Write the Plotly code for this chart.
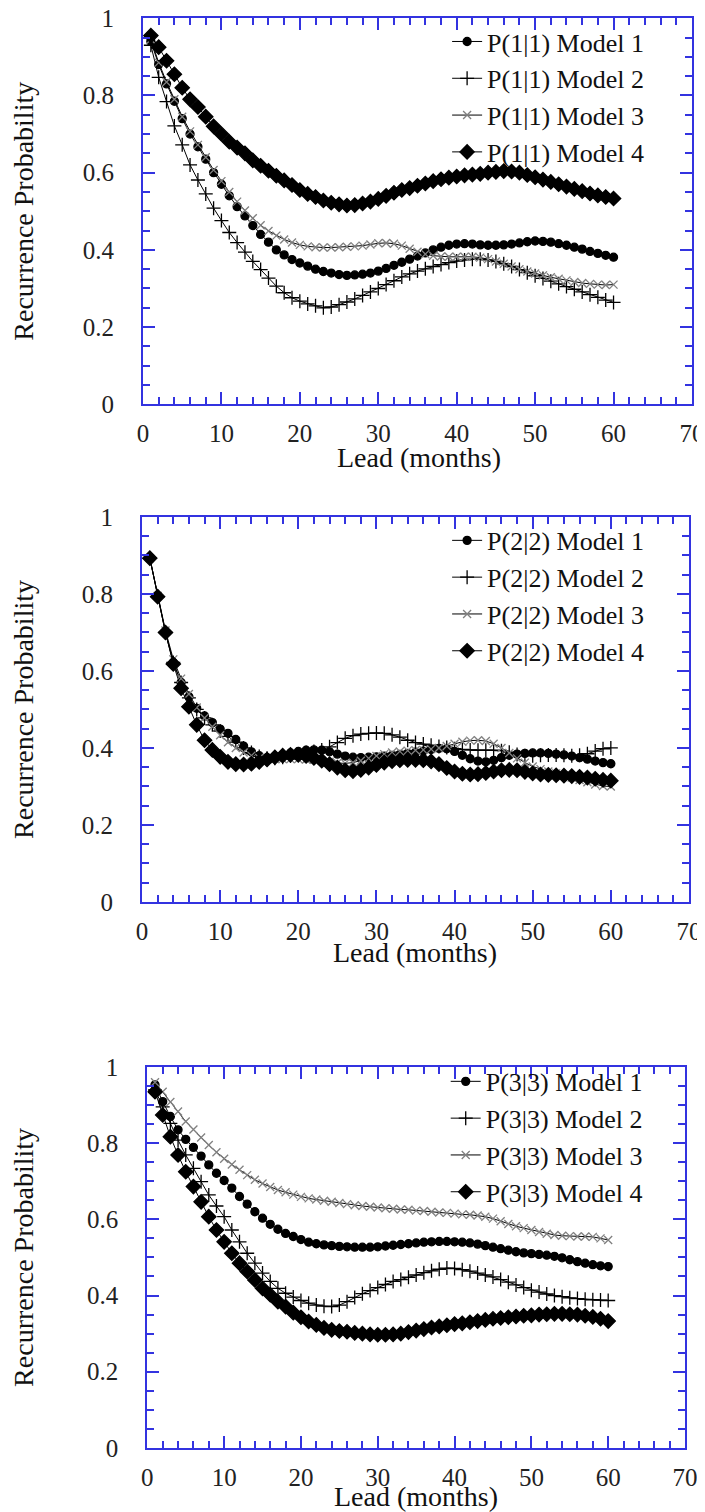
import plotly.graph_objects as go

# lead times (months) shared by every panel
lead = list(range(1, 61))

# P(1|1)
p11_m1 = [0.94, 0.88, 0.83, 0.785, 0.74, 0.70, 0.667, 0.635, 0.60, 0.57,
          0.54, 0.512, 0.488, 0.463, 0.44, 0.42, 0.40, 0.387, 0.375, 0.366,
          0.358, 0.35, 0.344, 0.34, 0.336, 0.334, 0.335, 0.337, 0.34, 0.345,
          0.352, 0.36, 0.368, 0.376, 0.384, 0.392, 0.40, 0.407, 0.412, 0.415,
          0.416, 0.415, 0.413, 0.412, 0.412, 0.413, 0.415, 0.418, 0.421, 0.423,
          0.422, 0.42, 0.416, 0.412, 0.407, 0.402, 0.396, 0.391, 0.386, 0.381]
p11_m2 = [0.93, 0.847, 0.784, 0.721, 0.672, 0.62, 0.581, 0.545, 0.508, 0.476,
          0.445, 0.419, 0.394, 0.37, 0.349, 0.327, 0.306, 0.289, 0.276, 0.267,
          0.26, 0.255, 0.25, 0.252, 0.258, 0.265, 0.273, 0.282, 0.291, 0.30,
          0.31, 0.32, 0.33, 0.338, 0.345, 0.351, 0.357, 0.362, 0.367, 0.371,
          0.374, 0.376, 0.376, 0.374, 0.37, 0.364, 0.357, 0.349, 0.341, 0.333,
          0.326, 0.319, 0.312, 0.305, 0.298, 0.291, 0.284, 0.277, 0.27, 0.264]
p11_m3 = [0.945, 0.885, 0.835, 0.79, 0.745, 0.707, 0.672, 0.64, 0.607, 0.578,
          0.55, 0.525, 0.502, 0.482, 0.464, 0.449, 0.437, 0.427, 0.419, 0.413,
          0.409, 0.407, 0.406, 0.406, 0.407, 0.408, 0.409, 0.411, 0.414, 0.417,
          0.418, 0.416, 0.411, 0.403, 0.395, 0.389, 0.385, 0.383, 0.382, 0.382,
          0.382, 0.382, 0.38, 0.376, 0.37, 0.364, 0.357, 0.35, 0.344, 0.339,
          0.334, 0.329, 0.325, 0.321, 0.317, 0.314, 0.312, 0.31, 0.309, 0.31]
p11_m4 = [0.955, 0.925, 0.89, 0.855, 0.82, 0.79, 0.77, 0.745, 0.72, 0.70,
          0.68, 0.665, 0.65, 0.632, 0.618, 0.605, 0.592, 0.58, 0.568, 0.555,
          0.545, 0.537, 0.528, 0.522, 0.518, 0.515, 0.516, 0.52, 0.525, 0.532,
          0.54, 0.548, 0.555, 0.56, 0.566, 0.572, 0.578, 0.583, 0.587, 0.59,
          0.593, 0.595, 0.597, 0.60, 0.602, 0.604, 0.603, 0.60, 0.594, 0.588,
          0.582, 0.576, 0.57, 0.564, 0.558, 0.552, 0.546, 0.541, 0.537, 0.533]

# P(2|2)
p22_m1 = [0.893, 0.793, 0.70, 0.622, 0.57, 0.533, 0.503, 0.483, 0.466, 0.449,
          0.438, 0.422, 0.405, 0.39, 0.38, 0.375, 0.377, 0.382, 0.387, 0.391,
          0.394, 0.395, 0.394, 0.39, 0.384, 0.379, 0.376, 0.375, 0.376, 0.377,
          0.379, 0.381, 0.383, 0.386, 0.389, 0.392, 0.396, 0.399, 0.398, 0.391,
          0.381, 0.372, 0.366, 0.364, 0.368, 0.375, 0.381, 0.384, 0.386, 0.387,
          0.387, 0.386, 0.384, 0.382, 0.379, 0.375, 0.371, 0.366, 0.362, 0.359]
p22_m2 = [0.893, 0.793, 0.70, 0.622, 0.57, 0.53, 0.50, 0.478, 0.46, 0.444,
          0.43, 0.415, 0.40, 0.388, 0.378, 0.373, 0.373, 0.376, 0.38, 0.384,
          0.388, 0.391, 0.395, 0.403, 0.414, 0.425, 0.432, 0.436, 0.438, 0.439,
          0.438, 0.434, 0.428, 0.42, 0.414, 0.41, 0.407, 0.404, 0.401, 0.398,
          0.396, 0.395, 0.394, 0.394, 0.394, 0.393, 0.389, 0.383, 0.38, 0.38,
          0.381, 0.382, 0.382, 0.381, 0.38, 0.381, 0.385, 0.392, 0.398, 0.40]
p22_m3 = [0.893, 0.795, 0.705, 0.63, 0.58, 0.54, 0.505, 0.478, 0.455, 0.433,
          0.415, 0.40, 0.388, 0.38, 0.374, 0.372, 0.371, 0.371, 0.371, 0.371,
          0.37, 0.369, 0.367, 0.364, 0.361, 0.36, 0.362, 0.367, 0.373, 0.379,
          0.384, 0.388, 0.391, 0.393, 0.394, 0.395, 0.397, 0.40, 0.405, 0.411,
          0.416, 0.419, 0.42, 0.418, 0.411, 0.40, 0.387, 0.373, 0.362, 0.352,
          0.345, 0.339, 0.334, 0.329, 0.323, 0.317, 0.311, 0.305, 0.301, 0.30]
p22_m4 = [0.893, 0.793, 0.70, 0.618, 0.555, 0.507, 0.46, 0.42, 0.395, 0.377,
          0.364, 0.358, 0.357, 0.359, 0.364, 0.37, 0.376, 0.38, 0.382, 0.382,
          0.379, 0.374, 0.367, 0.358, 0.349, 0.342, 0.34, 0.343, 0.349, 0.356,
          0.362, 0.366, 0.368, 0.369, 0.369, 0.368, 0.365, 0.358, 0.348, 0.339,
          0.333, 0.331, 0.332, 0.335, 0.339, 0.342, 0.343, 0.342, 0.338, 0.334,
          0.331, 0.33, 0.329, 0.328, 0.327, 0.325, 0.323, 0.32, 0.317, 0.315]

# P(3|3)
p33_m1 = [0.953, 0.909, 0.87, 0.835, 0.81, 0.789, 0.766, 0.743, 0.721, 0.702,
          0.682, 0.66, 0.64, 0.62, 0.603, 0.587, 0.574, 0.563, 0.555, 0.547,
          0.54, 0.536, 0.533, 0.531, 0.529, 0.528, 0.527, 0.527, 0.527, 0.528,
          0.53, 0.532, 0.534, 0.536, 0.538, 0.54, 0.541, 0.542, 0.542, 0.541,
          0.54, 0.538, 0.535, 0.531, 0.527, 0.523, 0.519, 0.515, 0.512, 0.51,
          0.508, 0.506, 0.503, 0.499, 0.494, 0.489, 0.485, 0.481, 0.478, 0.476]
p33_m2 = [0.94, 0.895, 0.852, 0.808, 0.769, 0.734, 0.699, 0.664, 0.635, 0.607,
          0.572, 0.541, 0.511, 0.485, 0.459, 0.437, 0.419, 0.406, 0.396, 0.387,
          0.38, 0.375, 0.372, 0.371, 0.375, 0.384, 0.395, 0.405, 0.413, 0.421,
          0.429, 0.437, 0.442, 0.448, 0.454, 0.46, 0.465, 0.469, 0.472, 0.471,
          0.468, 0.464, 0.459, 0.454, 0.449, 0.442, 0.435, 0.428, 0.421, 0.414,
          0.409, 0.404, 0.40, 0.397, 0.394, 0.392, 0.39, 0.389, 0.388, 0.387]
p33_m3 = [0.96, 0.935, 0.908, 0.883, 0.857, 0.836, 0.815, 0.795, 0.776, 0.759,
          0.744, 0.73, 0.716, 0.704, 0.694, 0.685, 0.677, 0.671, 0.665, 0.659,
          0.655, 0.652, 0.649, 0.646, 0.643, 0.64, 0.637, 0.635, 0.633, 0.631,
          0.629, 0.628, 0.626, 0.625, 0.623, 0.622, 0.62, 0.618, 0.617, 0.615,
          0.613, 0.612, 0.61, 0.607, 0.602, 0.595, 0.588, 0.582, 0.577, 0.572,
          0.567, 0.562, 0.559, 0.557, 0.556, 0.555, 0.555, 0.554, 0.55, 0.546]
p33_m4 = [0.935, 0.874, 0.817, 0.769, 0.725, 0.686, 0.646, 0.607, 0.572, 0.541,
          0.511, 0.485, 0.463, 0.441, 0.419, 0.402, 0.384, 0.371, 0.355, 0.343,
          0.332, 0.323, 0.315, 0.31, 0.307, 0.305, 0.302, 0.30, 0.298, 0.297,
          0.297, 0.298, 0.30, 0.304, 0.308, 0.312, 0.316, 0.319, 0.322, 0.325,
          0.327, 0.33, 0.333, 0.336, 0.339, 0.341, 0.343, 0.345, 0.347, 0.348,
          0.35, 0.351, 0.352, 0.352, 0.351, 0.35, 0.347, 0.344, 0.339, 0.333]

x_ticks = [0, 10, 20, 30, 40, 50, 60, 70]
y_ticks = [0, 0.2, 0.4, 0.6, 0.8, 1]

FONT = "Liberation Serif, Times New Roman, serif"
FRAME = "#3333e0"

# marker style per model: symbol, size, colour
model_style = {
    1: ("circle", 8, "black"),
    2: ("cross-thin-open", 10, "black"),
    3: ("x-thin-open", 8, "#808080"),
    4: ("diamond", 11, "black"),
}

panels = [
    ("1|1", [p11_m1, p11_m2, p11_m3, p11_m4]),
    ("2|2", [p22_m1, p22_m2, p22_m3, p22_m4]),
    ("3|3", [p33_m1, p33_m2, p33_m3, p33_m4]),
]

# the page body keeps its default 8px margin, so the figure is 8px smaller
# than the window and everything below is measured from that offset
x_domains = [[0.1937, 0.9813], [0.1923, 0.9770], [0.1999, 0.9713]]
y_domains = [[0.7365, 0.9932], [0.4056, 0.6616], [0.0426, 0.2959]]
legend_pos = [(0.630, 0.9933), (0.630, 0.6616), (0.628, 0.3019)]
# "Lead (months)" centre of each panel (paper x, paper y)
xtitle_pos = [(0.5890, 0.7008), (0.5846, 0.3717), (0.5854, 0.0100)]

fig = go.Figure()

for i, (state, series) in enumerate(panels):
    n = i + 1
    xa = "x" if n == 1 else f"x{n}"
    ya = "y" if n == 1 else f"y{n}"
    lg = "legend" if n == 1 else f"legend{n}"
    for m, values in enumerate(series, start=1):
        symbol, size, mcolor = model_style[m]
        fig.add_trace(go.Scatter(
            x=lead, y=values,
            mode="lines+markers",
            name=f"P({state}) Model {m}",
            line=dict(color="black", width=1),
            marker=dict(symbol=symbol, size=size, color=mcolor,
                        line=dict(color=mcolor, width=1.3)),
            xaxis=xa, yaxis=ya, legend=lg,
        ))

    axis_common = dict(
        showline=True, linecolor=FRAME, linewidth=2, mirror="ticks",
        ticks="inside", tickcolor=FRAME, tickwidth=1.5, ticklen=12,
        showgrid=False, zeroline=False, automargin=False,
        ticklabeloverflow="allow",
        tickfont=dict(family=FONT, size=25, color="#222"),
    )
    fig.layout[f"xaxis{'' if n == 1 else n}"] = dict(
        axis_common,
        domain=x_domains[i], anchor=ya, range=[0, 70],
        tickvals=x_ticks, ticklabelstandoff=6,
        minor=dict(dtick=2, ticks="inside", ticklen=7, tickcolor=FRAME, tickwidth=1.5),
    )
    fig.layout[f"yaxis{'' if n == 1 else n}"] = dict(
        axis_common,
        domain=y_domains[i], anchor=xa, range=[0, 1],
        tickvals=y_ticks, ticklabelstandoff=22,
        minor=dict(dtick=0.05, ticks="inside", ticklen=7, tickcolor=FRAME, tickwidth=1.5),
        title=dict(text="Recurrence Probability", standoff=58,
                   font=dict(family=FONT, size=28, color="#111")),
    )
    tx, ty = xtitle_pos[i]
    fig.add_annotation(
        text="Lead (months)", x=tx, y=ty, xref="paper", yref="paper",
        xanchor="center", yanchor="middle", showarrow=False,
        font=dict(family=FONT, size=28, color="#111"),
    )
    lx, ly = legend_pos[i]
    fig.layout[lg] = dict(
        x=lx, y=ly, xanchor="left", yanchor="top",
        bgcolor="rgba(0,0,0,0)", borderwidth=0,
        font=dict(family=FONT, size=26, color="#111"),
        tracegroupgap=0,
    )

fig.update_layout(
    width=697, height=1504,
    margin=dict(l=0, r=0, t=0, b=0),
    paper_bgcolor="white", plot_bgcolor="white",
    showlegend=True,
)

fig.write_html("out.html")
